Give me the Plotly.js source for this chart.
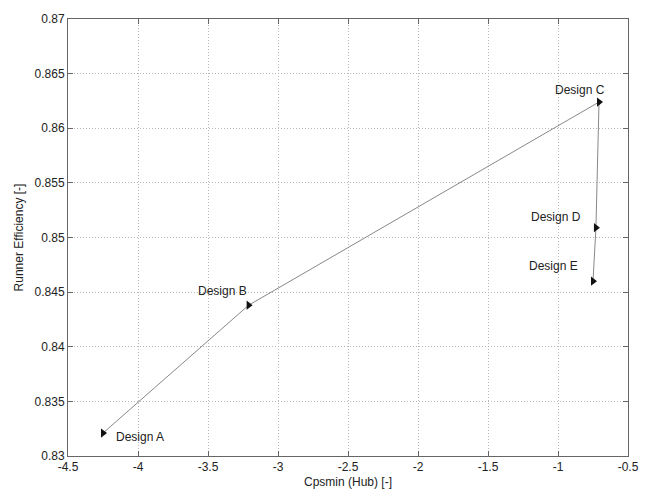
<!DOCTYPE html>
<html><head><meta charset="utf-8">
<script src="https://cdn.plot.ly/plotly-3.0.1.min.js"></script>
<style>body{margin:0;background:#fff}#c{width:645px;height:491px}</style>
</head><body><div id="c"></div>
<script>
const designs = ["Design A","Design B","Design C","Design D","Design E"];
const cpsmin = [-4.25, -3.21, -0.707, -0.729, -0.75];
const efficiency = [0.8321, 0.8438, 0.8624, 0.8509, 0.8460];
const xTicks = [-4.5,-4,-3.5,-3,-2.5,-2,-1.5,-1,-0.5];
const yTicks = [0.83,0.835,0.84,0.845,0.85,0.855,0.86,0.865,0.87];
const labelShift = [[37,-4],[-26,14],[-19,12],[-40,11],[-40,15]];

const FONT = 'Liberation Sans, Arial, sans-serif';
const trace = {
  x: cpsmin, y: efficiency, mode: 'lines+markers', type: 'scatter',
  line: {color: '#888', width: 1},
  marker: {symbol: 'triangle-right', size: 8, color: '#111'},
  hoverinfo: 'none'
};
const annotations = designs.map((d,i)=>({
  x: cpsmin[i], y: efficiency[i], text: d, showarrow: false,
  xshift: labelShift[i][0], yshift: labelShift[i][1],
  font: {family: FONT, size: 12, color: '#222'}
}));
const axisCommon = {
  showline: true, linecolor: '#666', linewidth: 1, mirror: 'ticks',
  ticks: 'inside', ticklen: 5, tickcolor: '#666',
  showgrid: true, gridcolor: '#b8b8b8', griddash: '1px,2px', gridwidth: 1,
  zeroline: false,
  tickfont: {family: FONT, size: 12, color: '#222'}
};
const layout = {
  width: 645, height: 491,
  margin: {l: 68, r: 17, t: 19, b: 35},
  paper_bgcolor: '#fff', plot_bgcolor: '#fff',
  showlegend: false,
  xaxis: Object.assign({}, axisCommon, {
    range: [-4.5, -0.5], tickvals: xTicks, ticktext: xTicks.map(String),
    title: {text: 'Cpsmin (Hub) [-]', standoff: 4, font: {family: FONT, size: 12, color: '#222'}}
  }),
  yaxis: Object.assign({}, axisCommon, {
    range: [0.83, 0.87], tickvals: yTicks, ticktext: yTicks.map(String),
    title: {text: 'Runner Efficiency [-]', standoff: 8, font: {family: FONT, size: 12, color: '#222'}}
  }),
  annotations: annotations
};
Plotly.newPlot('c', [trace], layout, {displayModeBar: false, staticPlot: true});
</script></body></html>
